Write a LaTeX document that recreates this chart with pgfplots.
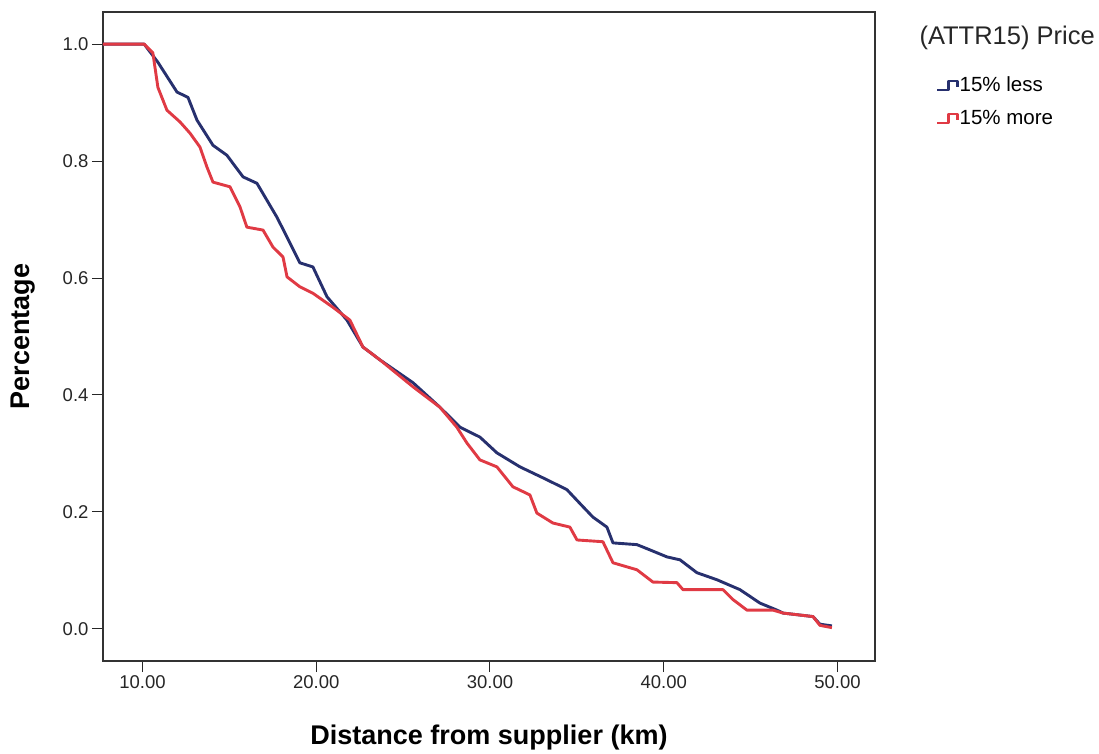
\documentclass[border=0pt]{standalone}
\usepackage{fontspec}
\setmainfont{Liberation Sans}
\usepackage{pgfplots}
\pgfplotsset{compat=1.18}
\definecolor{cblue}{HTML}{27306E}
\definecolor{cred}{HTML}{E03A44}
\begin{document}
\begin{tikzpicture}
\useasboundingbox (-103pt,-93pt) rectangle (996pt,661pt);
\begin{axis}[
  name=ax,
  at={(0pt,0pt)}, anchor=south west,
  width=772pt, height=649pt, scale only axis,
  xmin=7.73, xmax=52.16, ymin=-0.055, ymax=1.055,
  xtick={10,20,30,40,50}, ytick={0,0.2,0.4,0.6,0.8,1.0},
  tick align=outside, tick pos=left,
  major tick length=11pt,
  tick style={black!85, line width=1pt},
  axis line style={line width=1.2pt, black!80},
  xticklabel style={/pgf/number format/.cd, fixed, fixed zerofill, precision=2},
  yticklabel style={/pgf/number format/.cd, fixed, fixed zerofill, precision=1},
  /pgf/number format/assume math mode=true,
  ticklabel style={font=\fontsize{18.5}{21}\selectfont, text=black!85},
  xlabel={Distance from supplier (km)}, ylabel={Percentage},
  label style={font=\bfseries\fontsize{27}{29}\selectfont},
  xlabel style={at={(axis description cs:0.5,-0.1186)}, anchor=center},
  ylabel style={at={(axis description cs:-0.1036,0.5)}, anchor=center},
  legend style={at={(axis description cs:1,1)}, anchor=north west, xshift=58pt, yshift=-62pt,
    draw=none, fill=none, font=\fontsize{20.5}{22}\selectfont,
    nodes={inner sep=1pt, text height=14pt, text depth=4pt}, row sep=13pt},
  legend cell align=left,
  legend image code/.code={\draw[#1, line width=2.4pt] (0pt,-4pt) -- (11pt,-4pt) -- (11pt,5pt) -- (20pt,5pt) -- (20pt,-1pt);},
]
\addplot[cblue, line width=2.9pt, line join=round] coordinates {
(7.73,1.0) (10.1,1.0) (10.89,0.969) (11.99,0.918) (12.62,0.909) (13.14,0.870)
(14.06,0.827) (14.86,0.810) (15.79,0.773) (16.59,0.762) (17.74,0.704) (18.49,0.660)
(19.06,0.626) (19.81,0.619) (20.62,0.568) (21.77,0.528) (22.69,0.482) (23.67,0.460)
(25.57,0.421) (27.12,0.379) (28.27,0.345) (29.42,0.328) (30.40,0.301) (31.73,0.277)
(33.28,0.255) (34.43,0.238) (35.35,0.209) (35.93,0.191) (36.73,0.174) (37.08,0.147)
(38.46,0.144) (39.21,0.135) (40.19,0.123) (40.94,0.118) (41.91,0.096) (43.06,0.084)
(44.39,0.067) (45.54,0.044) (46.52,0.032) (46.86,0.027) (48.59,0.021) (48.99,0.008)
(49.68,0.005)
};
\addlegendentry{15\% less}
\addplot[cred, line width=2.9pt, line join=round] coordinates {
(7.73,1.0) (10.1,1.0) (10.60,0.985) (10.89,0.926) (11.41,0.887) (12.16,0.867)
(12.73,0.848) (13.31,0.824) (13.71,0.790) (14.06,0.764) (15.04,0.756) (15.61,0.722)
(16.01,0.687) (16.94,0.682) (17.51,0.653) (18.09,0.636) (18.32,0.602) (19.06,0.585)
(19.81,0.574) (20.96,0.550) (21.94,0.528) (22.69,0.482) (23.67,0.460) (25.57,0.414)
(27.12,0.379) (28.09,0.345) (28.67,0.318) (29.42,0.289) (30.40,0.277) (31.32,0.243)
(32.30,0.229) (32.70,0.198) (33.62,0.181) (34.60,0.174) (35.01,0.152) (36.50,0.149)
(37.08,0.113) (38.46,0.101) (39.38,0.080) (40.76,0.079) (41.11,0.067) (43.41,0.067)
(43.99,0.050) (44.79,0.032) (46.29,0.032) (46.86,0.027) (48.59,0.021) (48.99,0.006)
(49.68,0.002)
};
\addlegendentry{15\% more}
\end{axis}
\node[anchor=west, font=\fontsize{25.5}{27}\selectfont, text=black!85] at ([xshift=41pt,yshift=-26pt]ax.north east) {(ATTR15) Price};
\end{tikzpicture}
\end{document}
